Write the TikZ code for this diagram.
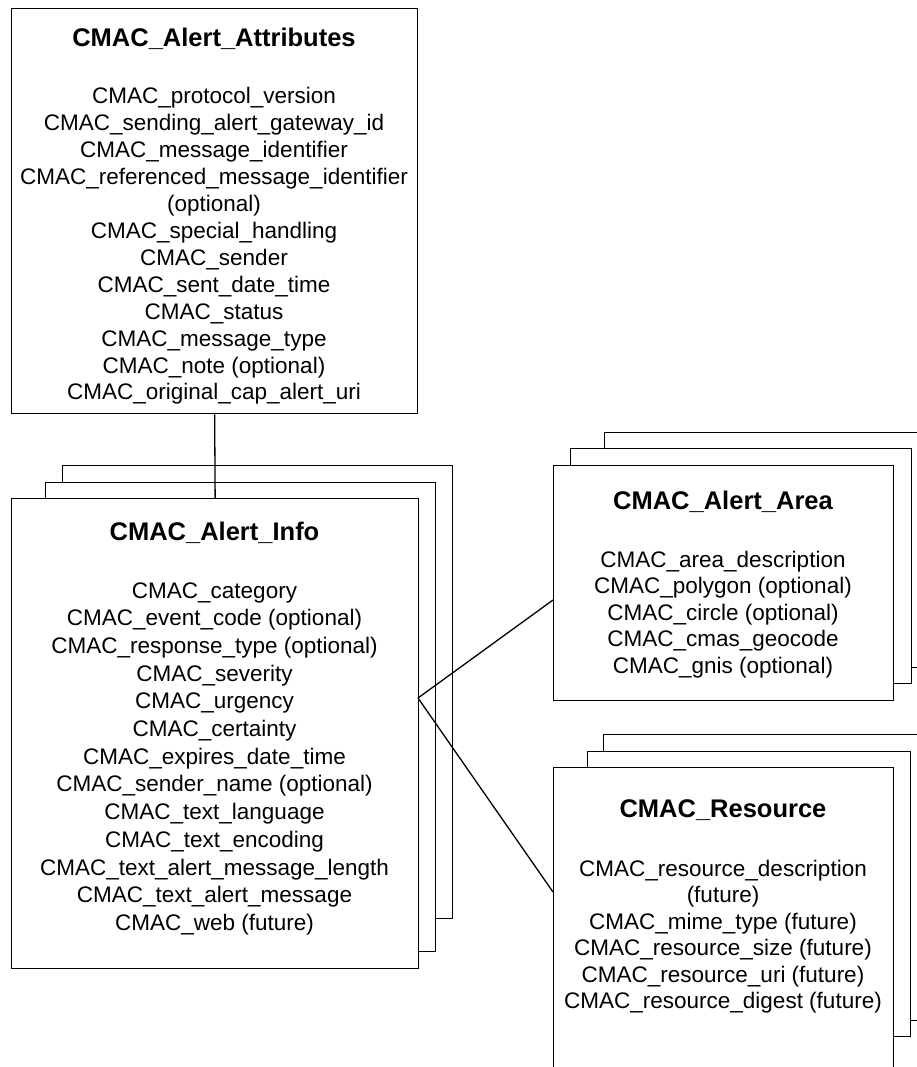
\documentclass[tikz,border=0pt]{standalone}
\usepackage{fontspec}
\setmainfont{Liberation Sans}
\begin{document}
\begin{tikzpicture}[x=1pt,y=-1pt,
  box/.style={draw, line width=1.3pt, fill=white, inner sep=0pt, anchor=north west},
  ttl/.style={font=\fontsize{25.5}{30}\selectfont\bfseries, anchor=base, inner sep=0pt},
  itm/.style={font=\fontsize{22.5}{27}\selectfont, anchor=base, inner sep=0pt},
  con/.style={line width=1.3pt}]
\useasboundingbox (0,0) rectangle (917,1067);
\clip (0,0) rectangle (917,1067);
% ---- Attributes
\node[box, minimum width=406pt, minimum height=405pt] (attr) at (11,8) {};
\node[ttl] (attrT) at (214,47) {CMAC\_Alert\_Attributes};
\foreach \t [count=\i] in {CMAC\_protocol\_version, CMAC\_sending\_alert\_gateway\_id, CMAC\_message\_identifier, CMAC\_referenced\_message\_identifier, (optional), CMAC\_special\_handling, CMAC\_sender, CMAC\_sent\_date\_time, CMAC\_status, CMAC\_message\_type, CMAC\_note (optional), CMAC\_original\_cap\_alert\_uri}
  \node[itm] (attr\i) at (214,{104+26.9*(\i-1)}) {\t};
% ---- Info stack
\node[box, minimum width=390pt, minimum height=453pt] (infoB1) at (62,465) {};
\node[box, minimum width=390pt, minimum height=469pt] (infoB2) at (45,482) {};
\node[box, minimum width=407pt, minimum height=470pt] (info) at (11,498) {};
\node[ttl] (infoT) at (214.5,540) {CMAC\_Alert\_Info};
\foreach \t [count=\i] in {CMAC\_category, CMAC\_event\_code (optional), CMAC\_response\_type (optional), CMAC\_severity, CMAC\_urgency, CMAC\_certainty, CMAC\_expires\_date\_time, CMAC\_sender\_name (optional), CMAC\_text\_language, CMAC\_text\_encoding, CMAC\_text\_alert\_message\_length, CMAC\_text\_alert\_message, CMAC\_web (future)}
  \node[itm] (info\i) at (214.5,{598+27.7*(\i-1)}) {\t};
% ---- Area stack
\node[box, minimum width=330pt, minimum height=235pt] (areaB1) at (604,432) {};
\node[box, minimum width=341pt, minimum height=235pt] (areaB2) at (570,448) {};
\node[box, minimum width=340pt, minimum height=235pt] (area) at (553,465) {};
\node[ttl] (areaT) at (723,509) {CMAC\_Alert\_Area};
\foreach \t [count=\i] in {CMAC\_area\_description, CMAC\_polygon (optional), CMAC\_circle (optional), CMAC\_cmas\_geocode, CMAC\_gnis (optional)}
  \node[itm] (area\i) at (723,{567+26.5*(\i-1)}) {\t};
% ---- Resource stack
\node[box, minimum width=330pt, minimum height=286pt] (resB1) at (603,734) {};
\node[box, minimum width=323pt, minimum height=285pt] (resB2) at (587,751) {};
\node[box, minimum width=340pt, minimum height=330pt] (res) at (553,767) {};
\node[ttl] (resT) at (723,817) {CMAC\_Resource};
\foreach \t [count=\i] in {CMAC\_resource\_description, (future), CMAC\_mime\_type (future), CMAC\_resource\_size (future), CMAC\_resource\_uri (future), CMAC\_resource\_digest (future)}
  \node[itm] (res\i) at (723,{876+26.5*(\i-1)}) {\t};
% ---- connectors
\coordinate (j) at (418,698);
\coordinate (ja) at (553,600);
\coordinate (jr) at (553,892);
\draw[con] (attr.south) -- (info.north);
\draw[con] (j) -- (ja);
\draw[con] (j) -- (jr);
\end{tikzpicture}
\end{document}
